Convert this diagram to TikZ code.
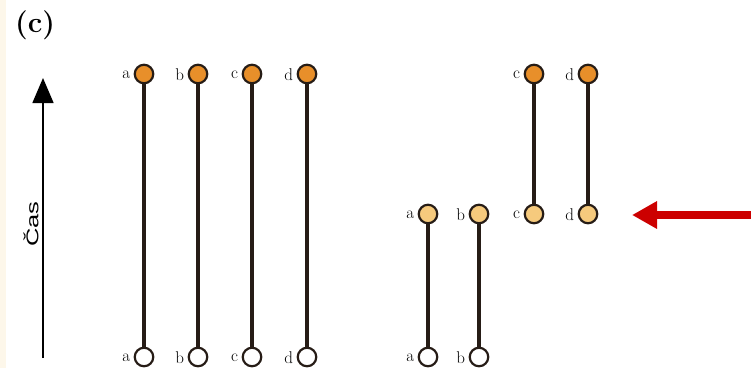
\documentclass[tikz,border=0pt]{standalone}
\usepackage{fontspec}
\newfontfamily\axisfont{Liberation Sans}
\definecolor{top_c}{RGB}{232,143,42}
\definecolor{mid_c}{RGB}{246,202,125}
\definecolor{rim_c}{RGB}{38,28,22}
\definecolor{arr_c}{RGB}{204,0,0}
\definecolor{strip_c}{RGB}{253,247,234}
\usetikzlibrary{arrows.meta,
                positioning}

\begin{document}
\begin{tikzpicture}[
			x=1pt, y=-1pt,
			dot/.style = {circle, draw=rim_c, line width=2.2pt, minimum size=18.5pt, inner sep=0pt},
			older/.style = {dot, fill=top_c},
			newer/.style = {dot, fill=mid_c},
			start/.style = {dot, fill=white},
			lab/.style = {label distance=1.5pt, label={[font=\fontsize{17}{17}\selectfont, yshift=-1pt]left:#1}},
			stick/.style = {line width=3.4pt, rim_c},
			]
			\useasboundingbox (0,0) rectangle (751,368);
			\fill[strip_c] (0,0) rectangle (6,368);
			\node[font=\bfseries\fontsize{29}{30}\selectfont] (title) at (35,25) {(c)};
			% time axis
			\coordinate (t0) at (43,358);
			\coordinate (t1) at (43,78);
			\draw[line width=1.6pt, -{Triangle[length=25pt,width=21pt]}] (t0) -- (t1);
			\node[rotate=90, font=\axisfont\fontsize{17}{17}\selectfont] (cas) at (31,224) {\scalebox{1.5}[1]{Čas}};
			% left: all four at the start
			\node[start,lab=a] (a0) at (144,357) {};
			\node[start,lab=b] (b0) at (198,357) {};
			\node[start,lab=c] (c0) at (252,357) {};
			\node[start,lab=d] (d0) at (307,357) {};
			\node[older,lab=a] (a2) at (144,74) {};
			\node[older,lab=b] (b2) at (198,74) {};
			\node[older,lab=c] (c2) at (252,74) {};
			\node[older,lab=d] (d2) at (307,74) {};
			% right: split
			\node[start,lab=a] (a0r) at (428,357) {};
			\node[start,lab=b] (b0r) at (479,357) {};
			\node[newer,lab=a] (a1r) at (428,214) {};
			\node[newer,lab=b] (b1r) at (479,214) {};
			\node[newer,lab=c] (c1r) at (534,214) {};
			\node[newer,lab=d] (d1r) at (588,214) {};
			\node[older,lab=c] (c2r) at (534,74) {};
			\node[older,lab=d] (d2r) at (588,74) {};
			% sticks
			\draw[stick] (a0) -- (a2);
			\draw[stick] (b0) -- (b2);
			\draw[stick] (c0) -- (c2);
			\draw[stick] (d0) -- (d2);
			\draw[stick] (a0r) -- (a1r);
			\draw[stick] (b0r) -- (b1r);
			\draw[stick] (c1r) -- (c2r);
			\draw[stick] (d1r) -- (d2r);
			% pointer
			\coordinate (p0) at (751,215);
			\coordinate (p1) at (632,215);
			\draw[arr_c, line width=7.5pt, -{Triangle[length=25pt,width=26pt]}] (p0) -- (p1);
		\end{tikzpicture}
\end{document}
